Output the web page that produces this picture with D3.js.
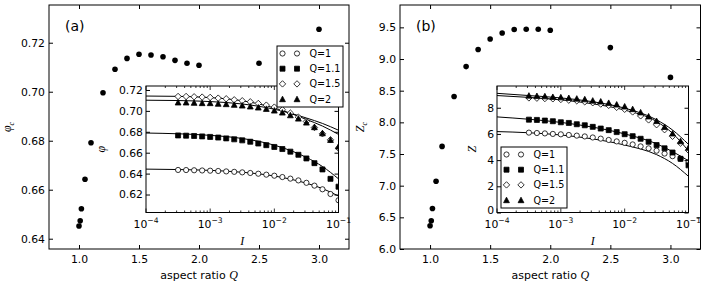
<!DOCTYPE html>
<html lang="en">
<head>
<meta charset="UTF-8">
<title>Packing fraction and coordination vs aspect ratio</title>
<script src="https://cdn.jsdelivr.net/npm/d3@7"></script>
<style>
  body { margin: 0; background: #fff; }
  svg text { font-family: 'DejaVu Sans', sans-serif; fill: #000; }
  svg text.math { font-family: 'Liberation Serif', 'DejaVu Serif', serif; font-style: italic; }
</style>
</head>
<body>
<svg id="chart" width="708" height="284"></svg>
<script>
// ---- main panels: jamming point vs aspect ratio Q
const aspectQ = [1.0, 1.01, 1.02, 1.05, 1.1, 1.2, 1.3, 1.4, 1.5, 1.6, 1.7, 1.8, 1.9, 2.0, 2.5, 3.0];
const phiC = [0.6452, 0.6473, 0.6522, 0.6643, 0.6792, 0.6996, 0.7092, 0.7136, 0.7153, 0.7150, 0.7143, 0.7128, 0.7116, 0.7108, 0.7116, 0.7255];
const zC = [6.367, 6.446, 6.64, 7.07, 7.62, 8.407, 8.88, 9.15, 9.315, 9.41, 9.465, 9.47, 9.47, 9.455, 9.18, 8.71];
const qTicks = [1.0, 1.5, 2.0, 2.5, 3.0];
const phiTicks = [0.64, 0.66, 0.68, 0.70, 0.72];
const zTicks = [6.0, 6.5, 7.0, 7.5, 8.0, 8.5, 9.0, 9.5];

// ---- insets: phi and Z against inertial number I
const inertiaI = [3.162e-4, 4.217e-4, 5.623e-4, 7.499e-4, 1.0e-3, 1.334e-3, 1.778e-3, 2.371e-3, 3.162e-3, 4.217e-3,
  5.623e-3, 7.499e-3, 1.0e-2, 1.334e-2, 1.778e-2, 2.371e-2, 3.162e-2, 4.217e-2, 5.623e-2, 7.499e-2, 1.0e-1];
const phiQ1 = [0.6435, 0.6434, 0.6432, 0.643, 0.6428, 0.6425, 0.6421, 0.6417, 0.6412, 0.6406, 0.6399, 0.639, 0.638, 0.6367, 0.6352, 0.6335, 0.6312, 0.6285, 0.625, 0.6205, 0.6145];
const phiQ11 = [0.6765, 0.6763, 0.676, 0.6756, 0.6751, 0.6745, 0.6737, 0.6728, 0.6718, 0.6705, 0.6688, 0.6672, 0.6655, 0.6635, 0.661, 0.658, 0.6545, 0.65, 0.644, 0.635, 0.6275];
const phiQ15 = [0.7138, 0.7138, 0.7135, 0.7132, 0.7129, 0.7122, 0.7116, 0.7106, 0.7097, 0.7087, 0.7071, 0.7055, 0.7036, 0.7011, 0.6979, 0.694, 0.6899, 0.6841, 0.6781, 0.6723, 0.6644];
const phiQ2 = [0.7081, 0.7081, 0.7078, 0.7075, 0.7075, 0.7069, 0.7065, 0.7059, 0.7052, 0.7043, 0.7033, 0.702, 0.7004, 0.6985, 0.6959, 0.6927, 0.6889, 0.6845, 0.6787, 0.6723, 0.666];
const zQ1 = [6.1, 6.07, 6.04, 6.0, 5.97, 5.92, 5.87, 5.81, 5.73, 5.64, 5.54, 5.43, 5.32, 5.2, 5.05, 4.9, 4.72, 4.5, 4.3, 4.1, 3.85];
const zQ11 = [7.09, 7.07, 7.02, 6.97, 6.89, 6.84, 6.74, 6.66, 6.54, 6.41, 6.29, 6.14, 5.98, 5.83, 5.63, 5.4, 5.15, 4.9, 4.58, 4.1, 3.6];
const zQ15 = [8.75, 8.73, 8.7, 8.68, 8.63, 8.58, 8.53, 8.45, 8.38, 8.28, 8.18, 8.03, 7.88, 7.68, 7.38, 7.07, 6.7, 6.32, 5.82, 5.3, 4.75];
const zQ2 = [8.93, 8.9, 8.88, 8.83, 8.8, 8.75, 8.7, 8.65, 8.55, 8.48, 8.375, 8.25, 8.1, 7.9, 7.65, 7.34, 6.99, 6.54, 6.04, 5.45, 4.95];

// fitted curves, read at a few I values
const fitI = [1e-4, 3.16e-4, 1e-3, 3.16e-3, 1e-2, 3.16e-2, 5.62e-2, 1e-1];
const phiFitQ1 = [0.6443, 0.6439, 0.6431, 0.6413, 0.6377, 0.6308, 0.6257, 0.6185];
const phiFitQ11 = [0.6788, 0.6781, 0.6766, 0.6736, 0.6672, 0.6555, 0.6468, 0.635];
const phiFitQ15 = [0.7142, 0.7139, 0.7127, 0.7097, 0.7028, 0.6918, 0.6855, 0.6775];
const phiFitQ2 = [0.7102, 0.7099, 0.7089, 0.7066, 0.7016, 0.6932, 0.688, 0.6815];
const zFitQ1 = [6.18, 6.09, 5.92, 5.62, 5.15, 4.42, 3.75, 2.76];
const zFitQ11 = [7.3, 7.12, 6.88, 6.52, 6.0, 5.25, 4.65, 3.95];
const zFitQ15 = [8.93, 8.79, 8.6, 8.3, 7.82, 6.95, 6.05, 4.7];
const zFitQ2 = [9.1, 8.93, 8.75, 8.46, 7.97, 7.08, 6.3, 5.2];

const seriesLabels = ['Q=1', 'Q=1.1', 'Q=1.5', 'Q=2'];
const seriesMarkers = ['circle', 'square', 'diamond', 'triangle'];
const iExponents = [-4, -3, -2, -1];
const phiInsetTicks = [0.62, 0.64, 0.66, 0.68, 0.70, 0.72];
const zInsetTicks = [0, 2, 4, 6, 8];

const svg = d3.select('#chart');

const markerPaths = {
  circle: 'M2.6,0A2.6,2.6 0 1,1 -2.6,0A2.6,2.6 0 1,1 2.6,0Z',
  square: 'M-2.5,-2.5h5v5h-5Z',
  diamond: 'M0,-3.2L3.2,0L0,3.2L-3.2,0Z',
  triangle: 'M0,-2.9L2.9,2.6L-2.9,2.6Z'
};
const markerFill = { circle: '#fff', square: '#000', diamond: '#fff', triangle: '#000' };

function drawMarker(sel, type) {
  sel.append('path')
    .attr('d', markerPaths[type])
    .attr('fill', markerFill[type])
    .attr('stroke', '#000')
    .attr('stroke-width', 0.8);
}

function styleAxis(a, size) {
  a.select('.domain').remove();
  a.attr('font-size', size).attr('font-family', null);
}

function drawPanel(p) {
  const g = svg.append('g');
  const x = d3.scaleLinear().domain([0.75, 3.25]).range([p.left, p.right]);
  const y = d3.scaleLinear().domain(p.yDomain).range([p.bottom, p.top]);

  g.append('g').attr('transform', `translate(0,${p.bottom})`)
    .call(d3.axisBottom(x).tickValues(qTicks).tickFormat(d3.format('.1f'))
      .tickSizeInner(-4).tickSizeOuter(0).tickPadding(6))
    .call(a => styleAxis(a, 10.8));
  g.append('g').attr('transform', `translate(0,${p.top})`)
    .call(d3.axisTop(x).tickValues(qTicks).tickFormat('').tickSizeInner(-4).tickSizeOuter(0))
    .call(a => styleAxis(a, 10.8));
  g.append('g').attr('transform', `translate(${p.left},0)`)
    .call(d3.axisLeft(y).tickValues(p.yTicks).tickFormat(d3.format(p.yFmt))
      .tickSizeInner(-4).tickSizeOuter(0).tickPadding(4))
    .call(a => styleAxis(a, 10.8));
  g.append('g').attr('transform', `translate(${p.right},0)`)
    .call(d3.axisRight(y).tickValues(p.yTicks).tickFormat('').tickSizeInner(-4).tickSizeOuter(0))
    .call(a => styleAxis(a, 10.8));

  g.append('rect')
    .attr('x', p.left).attr('y', p.top)
    .attr('width', p.right - p.left).attr('height', p.bottom - p.top)
    .attr('fill', 'none').attr('stroke', '#000').attr('stroke-width', 1);

  g.append('g').selectAll('circle')
    .data(aspectQ.map((q, i) => [q, p.values[i]]))
    .join('circle')
    .attr('cx', d => x(d[0])).attr('cy', d => y(d[1]))
    .attr('r', 2.8).attr('fill', '#000');

  g.append('text').attr('x', p.left + 16).attr('y', p.top + 26)
    .attr('font-size', 14).text(p.tag);

  const xl = g.append('text').attr('x', (p.left + p.right) / 2).attr('y', 279)
    .attr('text-anchor', 'middle').attr('font-size', 11);
  xl.append('tspan').text('aspect ratio ');
  xl.append('tspan').style('font-family', "'Liberation Serif', serif")
    .style('font-style', 'italic').attr('font-size', 12).text('Q');

  const yl = g.append('text').attr('class', 'math')
    .attr('transform', `translate(${p.left - p.ylabelOff},${(p.top + p.bottom) / 2}) rotate(-90)`)
    .attr('text-anchor', 'middle').attr('font-size', 12);
  yl.append('tspan').text(p.ylabel);
  yl.append('tspan').attr('dy', 3).attr('font-size', 8).text('c');

  drawInset(g, p.inset);
}

function drawInset(g, ins) {
  const x = d3.scaleLog().domain([1e-4, 1e-1]).range([ins.left, ins.right]);
  const y = d3.scaleLinear().domain(ins.yDomain).range([ins.bottom, ins.top]);
  const w = ins.right - ins.left, h = ins.bottom - ins.top;

  g.append('rect').attr('x', ins.left).attr('y', ins.top)
    .attr('width', w).attr('height', h).attr('fill', '#fff');

  const clipId = 'clip-' + ins.id;
  g.append('clipPath').attr('id', clipId).append('rect')
    .attr('x', ins.left).attr('y', ins.top).attr('width', w).attr('height', h);
  const plot = g.append('g').attr('clip-path', `url(#${clipId})`);

  const line = d3.line().x(d => x(d[0])).y(d => y(d[1])).curve(d3.curveMonotoneX);
  ins.fits.forEach(f => {
    plot.append('path').attr('d', line(fitI.map((v, i) => [v, f[i]])))
      .attr('fill', 'none').attr('stroke', '#000').attr('stroke-width', 1);
  });

  ins.series.forEach((s, si) => {
    plot.append('g').selectAll('g')
      .data(inertiaI.map((v, i) => [v, s[i]]))
      .join('g')
      .attr('transform', d => `translate(${x(d[0])},${y(d[1])})`)
      .each(function () { drawMarker(d3.select(this), seriesMarkers[si]); });
  });

  const allTicks = x.ticks();
  const isMajor = d => Math.abs(Math.log10(d) - Math.round(Math.log10(d))) < 1e-6;
  const tk = g.append('g');
  [[ins.bottom, -1], [ins.top, 1]].forEach(([yy, dir]) => {
    tk.selectAll(null).data(allTicks).join('line')
      .attr('x1', d => x(d)).attr('x2', d => x(d))
      .attr('y1', yy).attr('y2', d => yy + dir * (isMajor(d) ? 4 : 2))
      .attr('stroke', '#000').attr('stroke-width', 0.8);
  });
  g.append('g').attr('transform', `translate(${ins.left},0)`)
    .call(d3.axisLeft(y).tickValues(ins.yTicks).tickFormat(d3.format(ins.yFmt))
      .tickSizeInner(-4).tickSizeOuter(0).tickPadding(3))
    .call(a => styleAxis(a, 10.8))
    // lowest label sits right on the corner; lift it so it clears the 10^-4 label
    .call(a => a.selectAll('.tick text').filter(d => d === ins.yDomain[0]).attr('dy', '0.1em'));
  g.append('g').attr('transform', `translate(${ins.right},0)`)
    .call(d3.axisRight(y).tickValues(ins.yTicks).tickFormat('').tickSizeInner(-4).tickSizeOuter(0))
    .call(a => styleAxis(a, 10.8));

  const lab = g.append('g').selectAll('text').data(iExponents).join('text')
    .attr('x', d => x(Math.pow(10, d))).attr('y', ins.bottom + 15)
    .attr('text-anchor', 'middle').attr('font-size', 10.8);
  lab.append('tspan').text('10');
  lab.append('tspan').attr('dy', -4.5).attr('font-size', 7.6).text(d => '\u2212' + Math.abs(d));

  g.append('text').attr('class', 'math').attr('x', (ins.left + ins.right) / 2).attr('y', ins.bottom + 32)
    .attr('text-anchor', 'middle').attr('font-size', 12).text('I');
  g.append('text').attr('class', 'math')
    .attr('transform', `translate(${ins.ylabelX},${(ins.top + ins.bottom) / 2}) rotate(-90)`)
    .attr('text-anchor', 'middle').attr('font-size', 12).text(ins.ylabel);

  g.append('rect').attr('x', ins.left).attr('y', ins.top)
    .attr('width', w).attr('height', h)
    .attr('fill', 'none').attr('stroke', '#000').attr('stroke-width', 1);

  // legend
  const lg = ins.legend;
  const leg = g.append('g').attr('transform', `translate(${lg.x},${lg.y})`);
  leg.append('rect').attr('width', 66).attr('height', 61)
    .attr('fill', '#fff').attr('stroke', '#000').attr('stroke-width', 1);
  seriesLabels.forEach((s, i) => {
    const row = leg.append('g').attr('transform', `translate(0,${7.5 + i * 15.2})`);
    drawMarker(row.append('g').attr('transform', 'translate(5.5,0)'), seriesMarkers[i]);
    drawMarker(row.append('g').attr('transform', 'translate(20,0)'), seriesMarkers[i]);
    row.append('text').attr('x', 32.5).attr('y', 3.4).attr('font-size', 9.6).text(s);
  });
}

drawPanel({
  left: 49, top: 5, right: 349, bottom: 249,
  yDomain: [0.6358, 0.7354], yTicks: phiTicks, yFmt: '.2f',
  values: phiC, ylabel: '\u03C6', ylabelOff: 38, tag: '(a)',
  inset: {
    id: 'a', left: 146, top: 86, right: 338.5, bottom: 212.5,
    yDomain: [0.6028, 0.7238], yTicks: phiInsetTicks, yFmt: '.2f',
    series: [phiQ1, phiQ11, phiQ15, phiQ2], fits: [phiFitQ1, phiFitQ11, phiFitQ15, phiFitQ2],
    ylabel: '\u03C6', ylabelX: 105,
    legend: { x: 277, y: 46 }
  }
});

drawPanel({
  left: 400, top: 5, right: 700.5, bottom: 249,
  yDomain: [6.0, 9.853], yTicks: zTicks, yFmt: '.1f',
  values: zC, ylabel: 'Z', ylabelOff: 36, tag: '(b)',
  inset: {
    id: 'b', left: 497, top: 86, right: 688.5, bottom: 212.5,
    yDomain: [0, 9.66], yTicks: zInsetTicks, yFmt: 'd',
    series: [zQ1, zQ11, zQ15, zQ2], fits: [zFitQ1, zFitQ11, zFitQ15, zFitQ2],
    ylabel: 'Z', ylabelX: 476,
    legend: { x: 501, y: 147 }
  }
});
</script>
</body>
</html>
